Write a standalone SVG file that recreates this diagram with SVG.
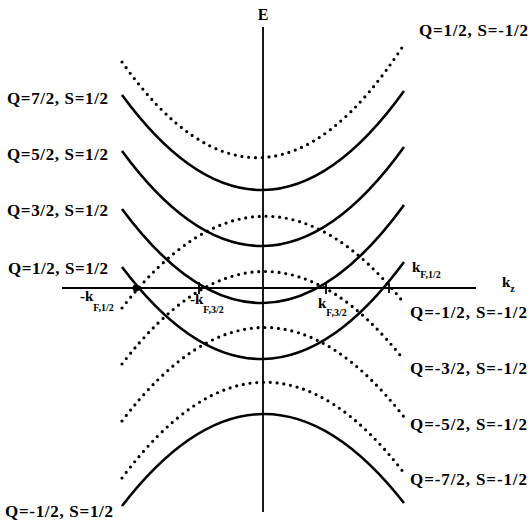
<svg xmlns="http://www.w3.org/2000/svg" width="529" height="526" viewBox="0 0 529 526">
<style>
.ax{stroke:#000;stroke-width:1.8;fill:none}
.s{stroke:#000;stroke-width:2.6;fill:none}
.d{stroke:#000;stroke-width:3.2;fill:none;stroke-dasharray:0 6.8;stroke-linecap:round}
text{font-family:"Liberation Serif","Times New Roman",serif;font-weight:bold;fill:#000}
.lb{font-size:17px}
.k{font-size:15px}
.sub{font-size:10px}
</style>
<rect width="529" height="526" fill="#fff"/>
<g id="axes">
<line class="ax" x1="263" y1="27" x2="263" y2="512"/>
<line class="ax" x1="62" y1="288" x2="476" y2="288"/>
<text x="263" y="20" text-anchor="middle" font-size="16">E</text>
<text class="k" x="502" y="287">k<tspan class="sub" dy="5">z</tspan></text>
</g>
<g id="connectors">
<path id="c-q12-sm" class="d" d="M122,62 Q263,261 403,46"/>
<path id="c-q72" class="s" d="M122,95 Q263,287 404,91"/>
<path id="c-q52" class="s" d="M122,151 Q263,343 404,147"/>
<path id="c-q32" class="s" d="M122,209 Q263,399 404,205"/>
<path id="c-q12" class="s" d="M122,267 Q263,453.5 404,262"/>
<path id="c-qm12-sm" class="d" d="M122,308 Q263,127 404,303"/>
<path id="c-qm32-sm" class="d" d="M122,364 Q263,181 404,360"/>
<path id="c-qm52-sm" class="d" d="M122,421 Q263,236 404,417"/>
<path id="c-qm72-sm" class="d" d="M122,478 Q263,289 404,473"/>
<path id="c-qm12" class="s" d="M122,506 Q263,323.5 404,503"/>
</g>
<g id="fermi-points">
<circle cx="136" cy="288" r="3.5" fill="#000"/>
<line class="ax" x1="199" y1="282" x2="199" y2="294"/>
<line class="ax" x1="326" y1="282" x2="326" y2="294"/>
<line class="ax" x1="389" y1="283" x2="389" y2="293"/>
</g>
<g id="labels-left">
<text class="lb" x="7" y="104" textLength="101" lengthAdjust="spacing">Q=7/2, S=1/2</text>
<text class="lb" x="7" y="160" textLength="101" lengthAdjust="spacing">Q=5/2, S=1/2</text>
<text class="lb" x="7" y="216" textLength="101" lengthAdjust="spacing">Q=3/2, S=1/2</text>
<text class="lb" x="8" y="274" textLength="100" lengthAdjust="spacing">Q=1/2, S=1/2</text>
<text class="lb" x="5" y="517" textLength="108" lengthAdjust="spacing">Q=-1/2, S=1/2</text>
</g>
<g id="labels-right">
<text class="lb" x="419" y="36" textLength="109" lengthAdjust="spacing">Q=1/2, S=-1/2</text>
<text class="lb" x="410" y="318" textLength="117" lengthAdjust="spacing">Q=-1/2, S=-1/2</text>
<text class="lb" x="410" y="374" textLength="117" lengthAdjust="spacing">Q=-3/2, S=-1/2</text>
<text class="lb" x="410" y="430" textLength="117" lengthAdjust="spacing">Q=-5/2, S=-1/2</text>
<text class="lb" x="410" y="485" textLength="117" lengthAdjust="spacing">Q=-7/2, S=-1/2</text>
</g>
<g id="labels-kf">
<text class="k" x="80" y="301">-k<tspan class="sub" dy="10">F,1/2</tspan></text>
<text class="k" x="190" y="304">-k<tspan class="sub" dy="9">F,3/2</tspan></text>
<text class="k" x="318" y="308">k<tspan class="sub" dy="8">F,3/2</tspan></text>
<text class="k" x="412" y="272">k<tspan class="sub" dy="6">F,1/2</tspan></text>
</g>
</svg>
